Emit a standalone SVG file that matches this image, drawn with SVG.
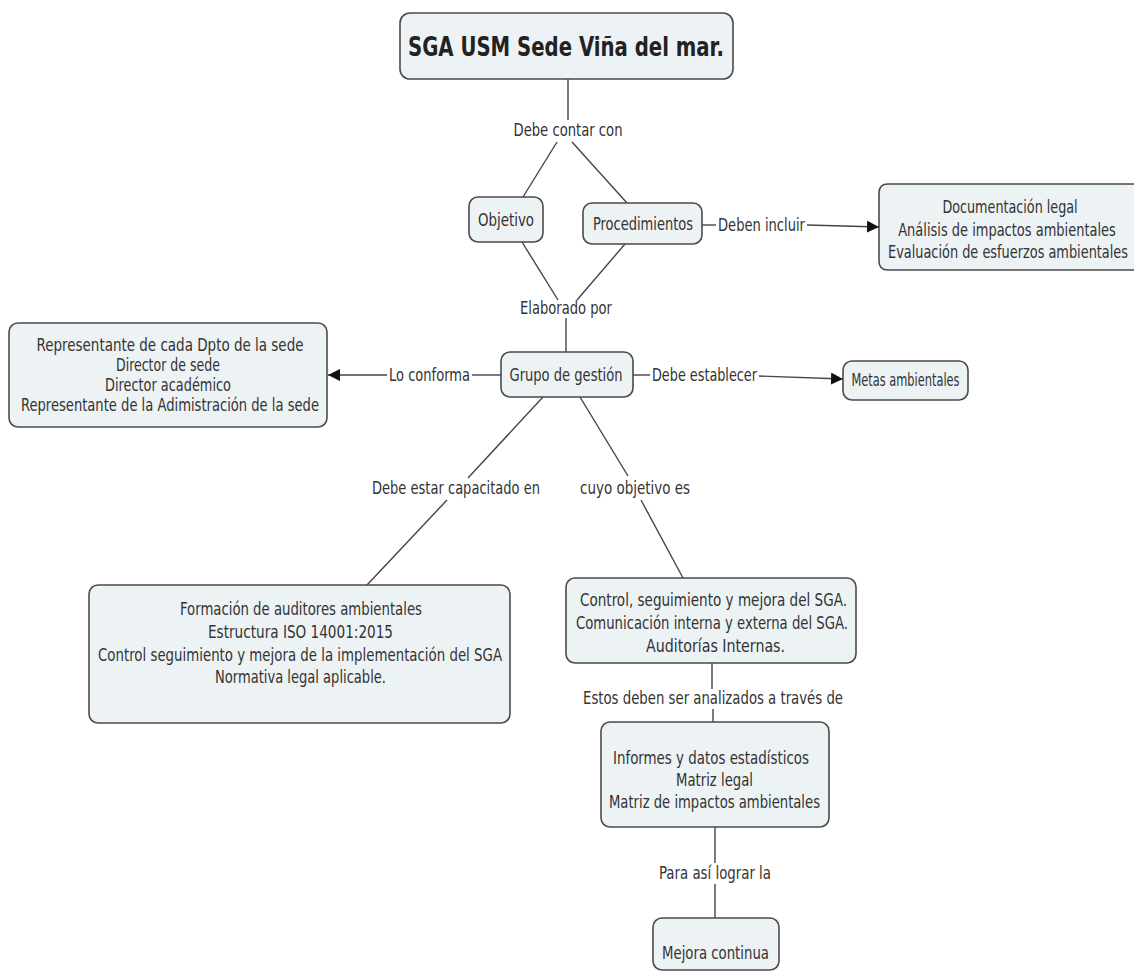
<svg xmlns="http://www.w3.org/2000/svg" width="1134" height="974" viewBox="0 0 1134 974">
<style>
.box{fill:#edf2f5;stroke:#4a4a4a;stroke-width:1.6}
.t{font-family:"DejaVu Sans Condensed","DejaVu Sans",sans-serif;font-size:17px;fill:#333;text-anchor:middle}
.title{font-family:"DejaVu Sans","DejaVu Sans Condensed",sans-serif;font-size:27px;font-weight:bold;fill:#222;text-anchor:middle}
.ln{stroke:#444;stroke-width:1.4;fill:none}
</style>
<defs>
<marker id="arr" viewBox="0 0 10 10" refX="10" refY="5" markerWidth="12" markerHeight="12" markerUnits="userSpaceOnUse" orient="auto">
<path d="M0,0 L10,5 L0,10 z" fill="#111"/>
</marker>
</defs>
<rect width="1134" height="974" fill="#ffffff"/>
<g id="connectors">
<line class="ln" x1="568" y1="79" x2="568" y2="120"/>
<line class="ln" x1="557" y1="142" x2="523" y2="197"/>
<line class="ln" x1="572" y1="142" x2="627" y2="203"/>
<line class="ln" x1="522" y1="242" x2="558" y2="300"/>
<line class="ln" x1="625" y1="244" x2="577" y2="300"/>
<line class="ln" x1="566" y1="318" x2="566" y2="352"/>
<line class="ln" x1="702" y1="225" x2="716" y2="225"/>
<line class="ln" x1="807" y1="225" x2="879" y2="227" marker-end="url(#arr)"/>
<line class="ln" x1="501" y1="375" x2="472" y2="375"/>
<line class="ln" x1="387" y1="375" x2="328" y2="375" marker-end="url(#arr)"/>
<line class="ln" x1="633" y1="375" x2="650" y2="375"/>
<line class="ln" x1="759" y1="376" x2="843" y2="379" marker-end="url(#arr)"/>
<line class="ln" x1="543" y1="397" x2="468" y2="478"/>
<line class="ln" x1="447" y1="500" x2="367" y2="585"/>
<line class="ln" x1="580" y1="397" x2="628" y2="476"/>
<line class="ln" x1="641" y1="500" x2="683" y2="578"/>
<line class="ln" x1="712" y1="663" x2="712" y2="689"/>
<line class="ln" x1="713" y1="709" x2="713" y2="722"/>
<line class="ln" x1="715" y1="827" x2="715" y2="863"/>
<line class="ln" x1="715" y1="884" x2="715" y2="918"/>
</g>
<g id="labels">
<text class="t" x="568" y="136" textLength="109" lengthAdjust="spacingAndGlyphs">Debe contar con</text>
<text class="t" x="566" y="314" textLength="92" lengthAdjust="spacingAndGlyphs">Elaborado por</text>
<text class="t" x="761.5" y="231" textLength="87" lengthAdjust="spacingAndGlyphs">Deben incluir</text>
<text class="t" x="429.5" y="381" textLength="81" lengthAdjust="spacingAndGlyphs">Lo conforma</text>
<text class="t" x="704.5" y="381" textLength="105" lengthAdjust="spacingAndGlyphs">Debe establecer</text>
<text class="t" x="456" y="494" textLength="168" lengthAdjust="spacingAndGlyphs">Debe estar capacitado en</text>
<text class="t" x="635" y="494" textLength="110" lengthAdjust="spacingAndGlyphs">cuyo objetivo es</text>
<text class="t" x="713" y="704" textLength="260" lengthAdjust="spacingAndGlyphs">Estos deben ser analizados a través de</text>
<text class="t" x="715" y="879" textLength="112" lengthAdjust="spacingAndGlyphs">Para así lograr la</text>
</g>
<g id="n-title">
<rect class="box" x="400" y="13" width="333" height="66" rx="10"/>
<text class="title" x="566" y="56" textLength="316" lengthAdjust="spacingAndGlyphs">SGA USM Sede Viña del mar.</text>
</g>
<g id="n-objetivo">
<rect class="box" x="469" y="197" width="74" height="45" rx="9"/>
<text class="t" x="506" y="226" textLength="56" lengthAdjust="spacingAndGlyphs">Objetivo</text>
</g>
<g id="n-procedimientos">
<rect class="box" x="583" y="203" width="119" height="41" rx="9"/>
<text class="t" x="643" y="230" textLength="100" lengthAdjust="spacingAndGlyphs">Procedimientos</text>
</g>
<g id="n-documentacion">
<path class="box" d="M1134,184 H888 Q879,184 879,193 V261 Q879,270 888,270 H1134"/>
<text class="t" transform="translate(1010,213) scale(0.8,1)" x="0" y="0" textLength="169" lengthAdjust="spacingAndGlyphs">Documentación legal</text>
<text class="t" transform="translate(1007,236) scale(0.8,1)" x="0" y="0" textLength="272" lengthAdjust="spacingAndGlyphs">Análisis de impactos ambientales</text>
<text class="t" transform="translate(1008,258) scale(0.8,1)" x="0" y="0" textLength="300" lengthAdjust="spacingAndGlyphs">Evaluación de esfuerzos ambientales</text>
</g>
<g id="n-grupo">
<rect class="box" x="501" y="352" width="132" height="45" rx="9"/>
<text class="t" x="566" y="381" textLength="113" lengthAdjust="spacingAndGlyphs">Grupo de gestión</text>
</g>
<g id="n-integrantes">
<rect class="box" x="9" y="323" width="318" height="104" rx="9"/>
<text class="t" x="170" y="351" textLength="267" lengthAdjust="spacingAndGlyphs">Representante de cada Dpto de la sede</text>
<text class="t" x="168" y="371" textLength="104" lengthAdjust="spacingAndGlyphs">Director de sede</text>
<text class="t" x="168" y="391" textLength="126" lengthAdjust="spacingAndGlyphs">Director académico</text>
<text class="t" x="170" y="411" textLength="298" lengthAdjust="spacingAndGlyphs">Representante de la Adimistración de la sede</text>
</g>
<g id="n-metas">
<rect class="box" x="843" y="361" width="125" height="39" rx="9"/>
<text class="t" x="905.5" y="386" textLength="108" lengthAdjust="spacingAndGlyphs">Metas ambientales</text>
</g>
<g id="n-formacion">
<rect class="box" x="89" y="585" width="421" height="138" rx="9"/>
<text class="t" x="301" y="615" textLength="242" lengthAdjust="spacingAndGlyphs">Formación de auditores ambientales</text>
<text class="t" x="300.5" y="638" textLength="185" lengthAdjust="spacingAndGlyphs">Estructura ISO 14001:2015</text>
<text class="t" x="300" y="661" textLength="404" lengthAdjust="spacingAndGlyphs">Control seguimiento y mejora de la implementación del SGA</text>
<text class="t" x="300.5" y="683" textLength="171" lengthAdjust="spacingAndGlyphs">Normativa legal aplicable.</text>
</g>
<g id="n-control">
<rect class="box" x="566" y="578" width="290" height="85" rx="9"/>
<text class="t" x="713.5" y="606" textLength="267" lengthAdjust="spacingAndGlyphs">Control, seguimiento y mejora del SGA.</text>
<text class="t" x="712" y="629" textLength="272" lengthAdjust="spacingAndGlyphs">Comunicación interna y externa del SGA.</text>
<text class="t" x="715.5" y="652" textLength="139" lengthAdjust="spacingAndGlyphs">Auditorías Internas.</text>
</g>
<g id="n-informes">
<rect class="box" x="601" y="722" width="228" height="105" rx="9"/>
<text class="t" x="711" y="764" textLength="196" lengthAdjust="spacingAndGlyphs">Informes y datos estadísticos</text>
<text class="t" x="714.5" y="786" textLength="77" lengthAdjust="spacingAndGlyphs">Matriz legal</text>
<text class="t" x="714.5" y="808" textLength="211" lengthAdjust="spacingAndGlyphs">Matriz de impactos ambientales</text>
</g>
<g id="n-mejora">
<rect class="box" x="653" y="918" width="126" height="52" rx="9"/>
<text class="t" x="715.5" y="959" textLength="107" lengthAdjust="spacingAndGlyphs">Mejora continua</text>
</g>
</svg>
